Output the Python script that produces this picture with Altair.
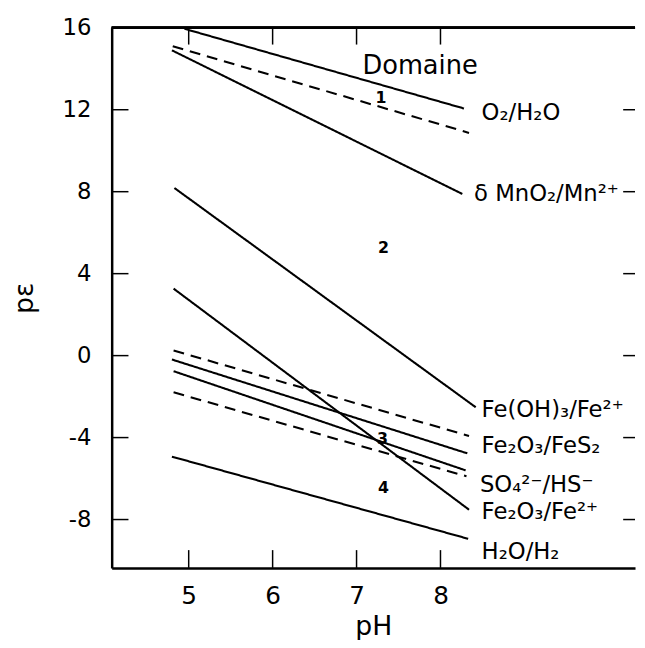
import altair as alt
import pandas as pd

# ---- data ----
line_names = ["O2/H2O", "O2/H2O (tirets)", "MnO2/Mn2+", "Fe(OH)3/Fe2+", "Fe2O3/Fe2+",
              "tirets haut", "Fe2O3/FeS2", "SO4/HS-", "tirets bas", "H2O/H2"]
line_styles = ["solid", "dashed", "solid", "solid", "solid",
               "dashed", "solid", "solid", "dashed", "solid"]
ph_start = [4.95, 4.81, 4.80, 4.83, 4.82, 4.82, 4.80, 4.82, 4.82, 4.80]
pe_start = [15.95, 15.10, 14.90, 8.18, 3.27, 0.25, -0.19, -0.76, -1.79, -4.93]
ph_end = [8.28, 8.34, 8.26, 8.42, 8.34, 8.34, 8.32, 8.30, 8.31, 8.33]
pe_end = [12.06, 10.87, 7.89, -2.52, -7.52, -3.92, -4.77, -5.60, -5.89, -8.94]

couple_labels = ["O₂/H₂O", "δ MnO₂/Mn²⁺", "Fe(OH)₃/Fe²⁺", "Fe₂O₃/FeS₂",
                 "SO₄²⁻/HS⁻", "Fe₂O₃/Fe²⁺", "H₂O/H₂"]
couple_ph = [8.49, 8.40, 8.49, 8.49, 8.47, 8.49, 8.49]
couple_pe = [11.86, 7.90, -2.65, -4.43, -6.31, -7.66, -9.59]

title_text = ["Domaine"]
title_ph = [7.07]
title_pe = [14.12]

region_labels = ["1", "2", "3", "4"]
region_ph = [7.29, 7.32, 7.31, 7.32]
region_pe = [12.58, 5.25, -4.05, -6.46]

x_ticks = [5, 6, 7, 8]
y_ticks = [16, 12, 8, 4, 0, -4, -8]
right_ticks = [12, 8, 4, 0, -4, -8]

# ---- tables ----
rows = []
for n, s, a, b, c, d in zip(line_names, line_styles, ph_start, pe_start, ph_end, pe_end):
    rows.append({"name": n, "style": s, "ph": a, "pe": b})
    rows.append({"name": n, "style": s, "ph": c, "pe": d})
lines_df = pd.DataFrame(rows)
couples_df = pd.DataFrame({"label": couple_labels, "ph": couple_ph, "pe": couple_pe})
title_df = pd.DataFrame({"label": title_text, "ph": title_ph, "pe": title_pe})
regions_df = pd.DataFrame({"label": region_labels, "ph": region_ph, "pe": region_pe})
xt_df = pd.DataFrame({"ph": x_ticks})
yt_df = pd.DataFrame({"pe": y_ticks})
rt_df = pd.DataFrame({"pe": right_ticks})

W, H = 530, 547
FONT = "DejaVu Sans, Liberation Sans, sans-serif"

xscale = alt.Scale(domain=[4.0824, 10.318], nice=False, zero=False)
yscale = alt.Scale(domain=[-10.36, 16], nice=False, zero=False)

xaxis = alt.Axis(values=x_ticks, ticks=False, grid=False, domain=True,
                 domainColor="black", domainWidth=2.5, labelFont=FONT,
                 labelFontSize=25, labelColor="black", labelPadding=16,
                 labelFlush=False, labelExpr="'' + datum.value",
                 title="pH", titleFont=FONT, titleFontSize=27,
                 titleFontWeight="normal", titleColor="black", titlePadding=5)
yaxis = alt.Axis(values=y_ticks, ticks=False, grid=False, domain=True,
                 domainColor="black", domainWidth=2.5, labelFont=FONT,
                 labelFontSize=23, labelColor="black", labelPadding=21,
                 labelFlush=False, labelExpr="'' + datum.value",
                 title="pε", titleFont=FONT, titleFontSize=27,
                 titleFontWeight="normal", titleColor="black", titlePadding=24)

X = alt.X("ph:Q", scale=xscale, axis=xaxis)
Y = alt.Y("pe:Q", scale=yscale, axis=yaxis)

lines = alt.Chart(lines_df).mark_line(color="black", strokeWidth=2.1).encode(
    x=X, y=Y, detail="name:N",
    strokeDash=alt.StrokeDash("style:N",
                              scale=alt.Scale(domain=["solid", "dashed"],
                                              range=[[1, 0], [11, 7]]),
                              legend=None),
)

couples = alt.Chart(couples_df).mark_text(
    align="left", baseline="middle", fontSize=23, font=FONT, color="black"
).encode(x=X, y=Y, text="label:N")

domaine = alt.Chart(title_df).mark_text(
    align="left", baseline="middle", fontSize=26, font=FONT, color="black"
).encode(x=X, y=Y, text="label:N")

regions = alt.Chart(regions_df).mark_text(
    align="center", baseline="middle", fontSize=16, fontWeight="bold",
    font=FONT, color="black"
).encode(x=X, y=Y, text="label:N")

bottom_ticks = alt.Chart(xt_df).mark_rule(color="black", strokeWidth=1.5).encode(
    x=X, y=alt.value(H), y2=alt.value(H - 18))
top_ticks = alt.Chart(xt_df).mark_rule(color="black", strokeWidth=1.5).encode(
    x=X, y=alt.value(0), y2=alt.value(17))
left_ticks = alt.Chart(yt_df).mark_rule(color="black", strokeWidth=1.5).encode(
    y=Y, x=alt.value(0), x2=alt.value(17))
right_ticks_l = alt.Chart(rt_df).mark_rule(color="black", strokeWidth=1.5).encode(
    y=Y, x=alt.value(W - 12), x2=alt.value(W))
top_line = alt.Chart(xt_df).mark_rule(color="black", strokeWidth=2.5).encode(
    x=alt.value(0), x2=alt.value(W), y=alt.value(0))

chart = alt.layer(
    lines, bottom_ticks, top_ticks, left_ticks, right_ticks_l, top_line,
    couples, domaine, regions
).properties(
    width=W, height=H,
    autosize=alt.AutoSizeParams(type="none"),
    padding={"left": 105, "top": 16, "right": 2, "bottom": 69},
    background="white",
).configure_view(stroke=None)

chart.save("out.html", embed_options={"renderer": "svg", "actions": False})
